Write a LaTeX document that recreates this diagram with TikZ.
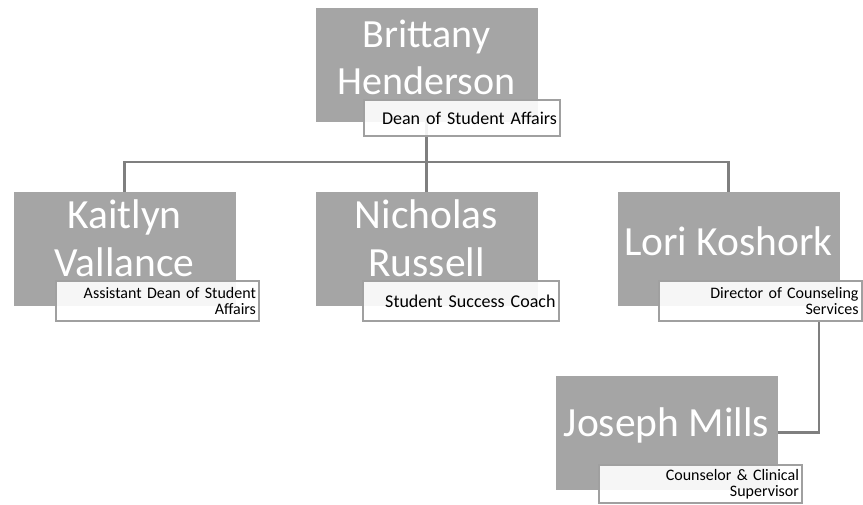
\documentclass[tikz,border=0pt]{standalone}
\usepackage{fontspec}
\setmainfont{Carlito}
\usetikzlibrary{calc}
\definecolor{boxgray}{RGB}{165,165,165}
\definecolor{linegray}{RGB}{127,127,127}
\definecolor{subborder}{RGB}{160,160,160}
\tikzset{
  namebox/.style={fill=boxgray, draw=none, minimum width=222pt, minimum height=114pt, inner sep=0pt},
  nametext/.style={text=white, font=\fontsize{41.5}{48}\selectfont, align=center, inner sep=0pt},
  subbox/.style={draw=subborder, line width=2pt, fill=white, fill opacity=0.9, text opacity=1,
     inner xsep=3pt, text width=197pt, align=right, font=\fontsize{16}{16}\selectfont},
  subone/.style={subbox, minimum height=36pt, font=\fontsize{18}{18}\selectfont, text width=190pt},
  subtwo/.style={subbox, minimum height=40pt},
  conn/.style={draw=linegray, line width=2.8pt},
}
\begin{document}
\begin{tikzpicture}[x=1pt,y=-1pt]
\useasboundingbox (0,0) rectangle (863,505);
% boxes
\node[namebox] (bh) at (426.5,65) {};
\node[namebox] (kv) at (124.5,249) {};
\node[namebox] (nr) at (426.5,249) {};
\node[namebox] (lk) at (728.5,249) {};
\node[namebox] (jm) at (666.5,432.5) {};
% connectors
\coordinate (bus) at (426.5,162);
\coordinate (lkdrop) at (819,321);
\draw[conn] (bh.center) -- (bus);
\draw[conn] (kv.north) |- (bus) -| (lk.north);
\draw[conn] (bus) -- (nr.north);
\draw[conn] (lkdrop) |- (jm.east);
% redraw boxes on top
\node[namebox] at (bh.center) {};
\node[namebox] at (kv.center) {};
\node[namebox] at (nr.center) {};
\node[namebox] at (lk.center) {};
\node[namebox] at (jm.center) {};
% names
\node[nametext, font=\fontsize{40}{47}\selectfont] (bht) at (426.5,57) {Brittany\\Henderson};
\node[nametext] (kvt) at (124.5,238.5) {Kaitlyn\\Vallance};
\node[nametext] (nrt) at (426.5,238.5) {Nicholas\\Russell};
\node[nametext] (lkt) at (728.5,241) {Lori Koshork};
\node[nametext] (jmt) at (666.5,425) {Joseph Mills};
% subtitles
\node[subone] (bhsub) at (462,118) {Dean of Student Affairs};
\node[subtwo] (kvsub) at (157.5,301) {Assistant Dean of Student\\Affairs};
\node[subone, minimum height=40pt] (nrsub) at (460.5,301) {Student Success Coach};
\node[subtwo] (lksub) at (760,301) {Director of Counseling\\Services};
\node[subtwo, minimum height=38pt] (jmsub) at (700.5,484) {Counselor \& Clinical\\Supervisor};
\end{tikzpicture}
\end{document}
